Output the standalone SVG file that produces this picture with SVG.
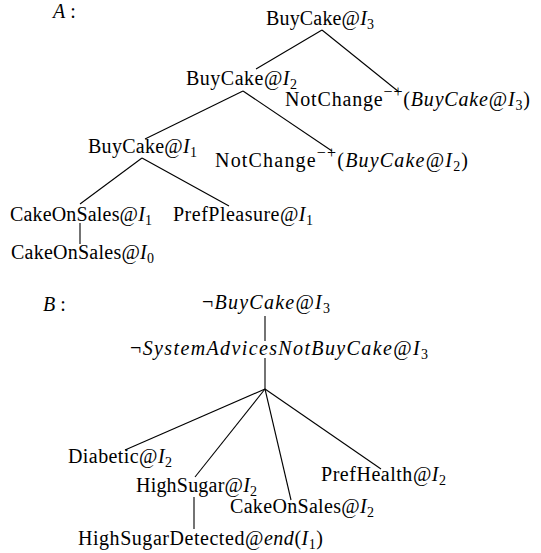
<svg xmlns="http://www.w3.org/2000/svg" width="541" height="553" viewBox="0 0 541 553">
<style>
text{font-family:"Liberation Serif","Times New Roman",serif;font-size:20px;fill:#000}
.i{font-style:italic}
.s{font-size:14px}
.p{font-size:16px}
line{stroke:#000;stroke-width:1.1}
</style>
<rect width="541" height="553" fill="#fff"/>
<g id="connectors">
<line x1="322" y1="30" x2="256" y2="69"/>
<line x1="322" y1="30" x2="399" y2="92"/>
<line x1="243" y1="91" x2="145" y2="139"/>
<line x1="243" y1="91" x2="332" y2="151"/>
<line x1="142" y1="158" x2="80" y2="204"/>
<line x1="142" y1="158" x2="229" y2="206"/>
<line x1="80" y1="223" x2="80" y2="244"/>
<line x1="265" y1="316" x2="265" y2="341"/>
<line x1="265" y1="358" x2="265" y2="389"/>
<line x1="265" y1="389" x2="125" y2="450"/>
<line x1="265" y1="389" x2="195" y2="477"/>
<line x1="265" y1="389" x2="291" y2="500"/>
<line x1="265" y1="389" x2="381" y2="469"/>
<line x1="194" y1="497" x2="194" y2="529"/>
</g>
<g id="labelA"><text x="53" y="18"><tspan class="i">A</tspan> :</text></g>
<g id="a_buycake3"><text x="266" y="25" textLength="108">BuyCake@<tspan class="i">I</tspan><tspan class="s" dy="4">3</tspan></text></g>
<g id="a_buycake2"><text x="186" y="85" textLength="111">BuyCake@<tspan class="i">I</tspan><tspan class="s" dy="4">2</tspan></text></g>
<g id="a_notchange3"><text x="285" y="106" textLength="245">NotChange<tspan class="p" dy="-9">−+</tspan><tspan dy="9">(</tspan><tspan class="i">BuyCake</tspan>@<tspan class="i">I</tspan><tspan class="s" dy="4">3</tspan><tspan dy="-4">)</tspan></text></g>
<g id="a_buycake1"><text x="88" y="153" textLength="109">BuyCake@<tspan class="i">I</tspan><tspan class="s" dy="4">1</tspan></text></g>
<g id="a_notchange2"><text x="215" y="167" textLength="253">NotChange<tspan class="p" dy="-9">−+</tspan><tspan dy="9">(</tspan><tspan class="i">BuyCake</tspan>@<tspan class="i">I</tspan><tspan class="s" dy="4">2</tspan><tspan dy="-4">)</tspan></text></g>
<g id="a_cakeonsales1"><text x="10" y="221" textLength="142">CakeOnSales@<tspan class="i">I</tspan><tspan class="s" dy="4">1</tspan></text></g>
<g id="a_prefpleasure1"><text x="173" y="221" textLength="140">PrefPleasure@<tspan class="i">I</tspan><tspan class="s" dy="4">1</tspan></text></g>
<g id="a_cakeonsales0"><text x="11" y="259" textLength="143">CakeOnSales@<tspan class="i">I</tspan><tspan class="s" dy="4">0</tspan></text></g>
<g id="labelB"><text x="43" y="311"><tspan class="i">B</tspan> :</text></g>
<g id="b_notbuycake3"><text x="202" y="309" textLength="128">¬<tspan class="i">BuyCake</tspan>@<tspan class="i">I</tspan><tspan class="s" dy="4">3</tspan></text></g>
<g id="b_notsystem3"><text x="130" y="355" textLength="298">¬<tspan class="i">SystemAdvicesNotBuyCake</tspan>@<tspan class="i">I</tspan><tspan class="s" dy="4">3</tspan></text></g>
<g id="b_diabetic2"><text x="68" y="463" textLength="104">Diabetic@<tspan class="i">I</tspan><tspan class="s" dy="4">2</tspan></text></g>
<g id="b_highsugar2"><text x="136" y="492" textLength="121">HighSugar@<tspan class="i">I</tspan><tspan class="s" dy="4">2</tspan></text></g>
<g id="b_cakeonsales2"><text x="230" y="513" textLength="144">CakeOnSales@<tspan class="i">I</tspan><tspan class="s" dy="4">2</tspan></text></g>
<g id="b_prefhealth2"><text x="321" y="481" textLength="125">PrefHealth@<tspan class="i">I</tspan><tspan class="s" dy="4">2</tspan></text></g>
<g id="b_highsugardetected"><text x="78" y="545" textLength="245">HighSugarDetected@<tspan class="i">end</tspan>(<tspan class="i">I</tspan><tspan class="s" dy="4">1</tspan><tspan dy="-4">)</tspan></text></g>
</svg>
